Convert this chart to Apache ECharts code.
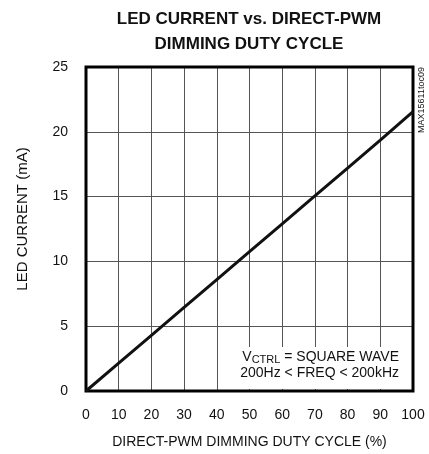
<!DOCTYPE html>
<html>
<head>
<meta charset="utf-8">
<script src="https://cdn.jsdelivr.net/npm/echarts@6/dist/echarts.min.js"></script>
<style>
html,body{margin:0;padding:0;background:#fff;}
#c{width:429px;height:454px;}
</style>
</head>
<body>
<div id="c"></div>
<script>
// Data
const dutyCycle = [0, 10, 20, 30, 40, 50, 60, 70, 80, 90, 100];
const ledCurrent = [0, 2.15, 4.3, 6.45, 8.6, 10.75, 12.9, 15.05, 17.2, 19.35, 21.55];
const xTicks = [0, 10, 20, 30, 40, 50, 60, 70, 80, 90, 100];
const yTicks = [0, 5, 10, 15, 20, 25];
const titleLines = ['LED CURRENT vs. DIRECT-PWM', 'DIMMING DUTY CYCLE'];
const xName = 'DIRECT-PWM DIMMING DUTY CYCLE (%)';
const yName = 'LED CURRENT (mA)';
const noteLine2 = '200Hz < FREQ < 200kHz';
const figId = 'MAX15611toc09';

const chart = echarts.init(document.getElementById('c'), null, {renderer: 'canvas'});
const FONT = '"Liberation Sans", Arial, Helvetica, sans-serif';

const option = {
  backgroundColor: '#ffffff',
  animation: false,
  grid: {
    left: 86, top: 67, width: 327, height: 327,
    show: true, borderColor: '#000', borderWidth: 3, backgroundColor: 'transparent', z: 3
  },
  xAxis: {
    type: 'value', min: xTicks[0], max: xTicks[xTicks.length - 1], interval: 10,
    name: xName, nameLocation: 'middle', nameGap: 44,
    nameTextStyle: {fontFamily: FONT, fontSize: 14, color: '#111'},
    axisLine: {show: false}, axisTick: {show: false},
    axisLabel: {margin: 17, fontFamily: FONT, fontSize: 14, color: '#111'},
    splitLine: {show: true, lineStyle: {color: '#555', width: 1}}
  },
  yAxis: {
    type: 'value', min: yTicks[0], max: yTicks[yTicks.length - 1], interval: 5,
    name: yName, nameLocation: 'middle', nameGap: 56,
    nameTextStyle: {fontFamily: FONT, fontSize: 15, color: '#111', padding: [0, 0, 0, 20]},
    axisLine: {show: false}, axisTick: {show: false},
    axisLabel: {margin: 18, fontFamily: FONT, fontSize: 14, color: '#111'},
    splitLine: {show: true, lineStyle: {color: '#555', width: 1}}
  },
  series: [{
    type: 'line',
    data: dutyCycle.map((d, i) => [d, ledCurrent[i]]),
    showSymbol: false,
    lineStyle: {color: '#111', width: 3},
    z: 4
  }],
  graphic: [
    {
      type: 'text', left: 249 - 150, top: 7, z: 10,
      style: {
        text: titleLines.join('\n'), width: 300, align: 'center',
        x: 150, textAlign: 'center',
        font: 'bold 17px ' + FONT, fill: '#111', lineHeight: 25
      }
    },
    {
      type: 'rect', z: 2,
      shape: {x: 240, y: 347, width: 170, height: 42},
      style: {fill: '#fff'}
    },
    {
      type: 'text', z: 5, x: 399, y: 349,
      style: {
        text: '{v|V}{s|CTRL}{v| = SQUARE WAVE}\n{v|' + noteLine2 + '}',
        align: 'right', textAlign: 'right',
        rich: {
          v: {fontFamily: FONT, fontSize: 14, fill: '#111', lineHeight: 16},
          s: {fontFamily: FONT, fontSize: 11, fill: '#111', lineHeight: 16, verticalAlign: 'bottom', padding: [5, 0, 0, 0]}
        }
      }
    },
    {
      type: 'text', z: 5, x: 422, y: 100, rotation: Math.PI / 2,
      style: {
        text: figId, textAlign: 'center', textVerticalAlign: 'middle',
        font: '9px ' + FONT, fill: '#111'
      }
    }
  ]
};
chart.setOption(option);
</script>
</body>
</html>
